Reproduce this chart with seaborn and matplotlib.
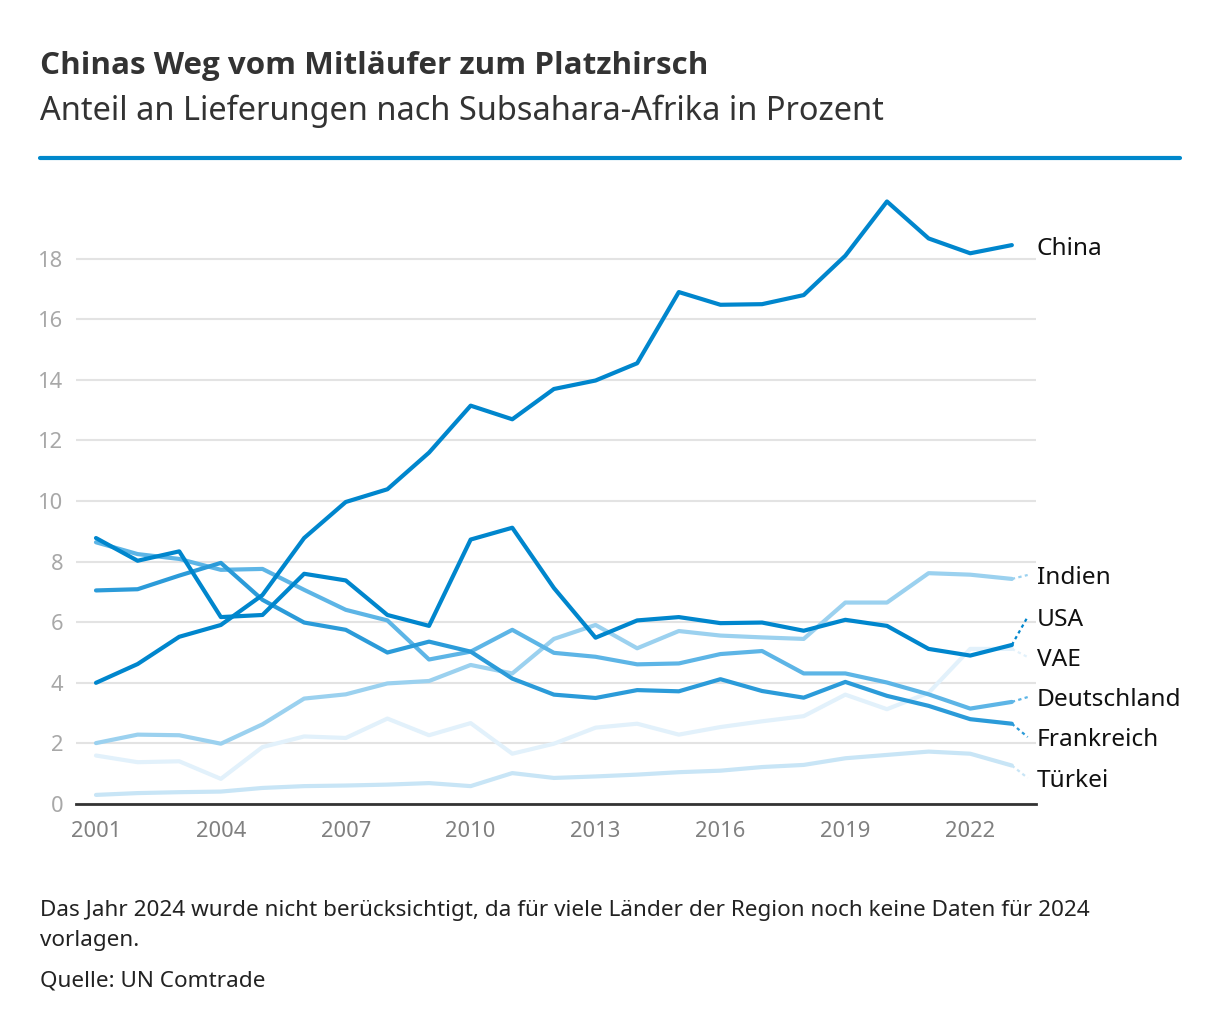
import matplotlib
matplotlib.use('Agg')
import matplotlib.pyplot as plt
import pandas as pd
import seaborn as sns
from matplotlib.lines import Line2D

years = list(range(2001, 2024))

china = [4.0, 4.62, 5.52, 5.91, 6.9, 8.78, 9.97, 10.39, 11.6, 13.15, 12.7, 13.7,
         13.98, 14.55, 16.9, 16.48, 16.5, 16.8, 18.1, 19.89, 18.67, 18.18, 18.45]
usa = [8.78, 8.03, 8.34, 6.17, 6.24, 7.6, 7.38, 6.24, 5.88, 8.73, 9.12, 7.13,
       5.49, 6.06, 6.17, 5.97, 5.99, 5.72, 6.08, 5.88, 5.12, 4.9, 5.25]
frankreich = [7.05, 7.09, 7.54, 7.96, 6.74, 5.99, 5.75, 5.0, 5.36, 5.03, 4.14, 3.61,
              3.5, 3.76, 3.72, 4.12, 3.73, 3.51, 4.03, 3.57, 3.24, 2.8, 2.65]
deutschland = [8.64, 8.25, 8.09, 7.73, 7.76, 7.07, 6.41, 6.06, 4.77, 5.03, 5.75, 4.99,
               4.86, 4.61, 4.64, 4.95, 5.05, 4.31, 4.31, 4.01, 3.62, 3.15, 3.37]
indien = [2.01, 2.29, 2.27, 1.99, 2.63, 3.48, 3.62, 3.98, 4.06, 4.59, 4.31, 5.45,
          5.91, 5.14, 5.71, 5.56, 5.5, 5.45, 6.65, 6.65, 7.62, 7.57, 7.43]
vae = [1.6, 1.38, 1.41, 0.83, 1.88, 2.23, 2.18, 2.82, 2.27, 2.67, 1.66, 1.99,
       2.52, 2.65, 2.29, 2.54, 2.73, 2.9, 3.61, 3.13, 3.67, 5.12, 5.12]
tuerkei = [0.3, 0.36, 0.39, 0.41, 0.53, 0.59, 0.61, 0.64, 0.69, 0.59, 1.02, 0.86,
           0.91, 0.97, 1.05, 1.1, 1.22, 1.29, 1.51, 1.62, 1.73, 1.66, 1.27]

countries = ['VAE', 'Türkei', 'Indien', 'Deutschland', 'Frankreich', 'USA', 'China']
series = [vae, tuerkei, indien, deutschland, frankreich, usa, china]
colors = ['#e2f1fb', '#c8e5f6', '#9bd1ef', '#5db5e6', '#2b9bd9', '#0086cd', '#0086cd']
# where the end labels sit (y in percent)
label_y = [4.85, 0.86, 7.56, 3.53, 2.21, 6.18, 18.4]

x_ticks = [2001, 2004, 2007, 2010, 2013, 2016, 2019, 2022]
y_ticks = [0, 2, 4, 6, 8, 10, 12, 14, 16, 18]

rows = []
for name, vals in zip(countries, series):
    for yr, v in zip(years, vals):
        rows.append({'Jahr': yr, 'Anteil': v, 'Land': name})
df = pd.DataFrame(rows)

sns.set_style('white')
plt.rcParams['font.family'] = ['Noto Sans', 'DejaVu Sans']

fig = plt.figure(figsize=(12.2, 10.36), dpi=100)
ax = fig.add_axes([76 / 1220, 1 - 804 / 1036, (1036 - 76) / 1220, (804 - 183) / 1036])

sns.lineplot(data=df, x='Jahr', y='Anteil', hue='Land', hue_order=countries,
             palette=colors, linewidth=3.0, legend=False, errorbar=None, ax=ax,
             zorder=3)

# dotted connectors + labels
for name, vals, col, ly in zip(countries, series, colors, label_y):
    if name != 'China':
        ax.plot([years[-1], years[-1] + 0.38], [vals[-1], ly], color=col,
                linewidth=1.6, linestyle=(0, (1.5, 1.5)), zorder=3)
    ax.text(years[-1] + 0.6, ly - 0.09, name, fontsize=17.6, color='#111111',
            va='center', ha='left')

ax.set_xlim(2000.52, 2023.58)
ax.set_ylim(0, 20.5)
ax.set_xticks(x_ticks)
ax.set_yticks(y_ticks)
ax.set_xlabel('')
ax.set_ylabel('')
ax.grid(axis='y', color='#e3e3e3', linewidth=1.5, zorder=0)
ax.set_axisbelow(True)
for s in ['top', 'right', 'left']:
    ax.spines[s].set_visible(False)
ax.spines['bottom'].set_color('#333333')
ax.spines['bottom'].set_linewidth(2)
ax.tick_params(axis='y', length=0, pad=9, labelsize=15.8, labelcolor='#a8a8a8')
ax.tick_params(axis='x', length=0, pad=12, labelsize=15.8, labelcolor='#808080')

# header
fig.text(40 / 1220, 1 - 74 / 1036, 'Chinas Weg vom Mitläufer zum Platzhirsch',
         fontsize=22.6, fontweight='bold', color='#333333', va='baseline',
         family=['Open Sans', 'DejaVu Sans'])
fig.text(40 / 1220, 1 - 120 / 1036, 'Anteil an Lieferungen nach Subsahara-Afrika in Prozent',
         fontsize=23.4, color='#333333', va='baseline')
fig.add_artist(Line2D([40 / 1220, 1180 / 1220], [1 - 158 / 1036, 1 - 158 / 1036],
                      color='#0088cc', linewidth=3))

# footer
fn = 16.2
fig.text(40 / 1220, 1 - 916 / 1036,
         'Das Jahr 2024 wurde nicht berücksichtigt, da für viele Länder der Region noch keine Daten für 2024',
         fontsize=fn, color='#222222', va='baseline')
fig.text(40 / 1220, 1 - 946 / 1036, 'vorlagen.', fontsize=fn, color='#222222', va='baseline')
fig.text(40 / 1220, 1 - 987 / 1036, 'Quelle: UN Comtrade', fontsize=fn, color='#222222',
         va='baseline')

fig.savefig('out.png', dpi=100)
